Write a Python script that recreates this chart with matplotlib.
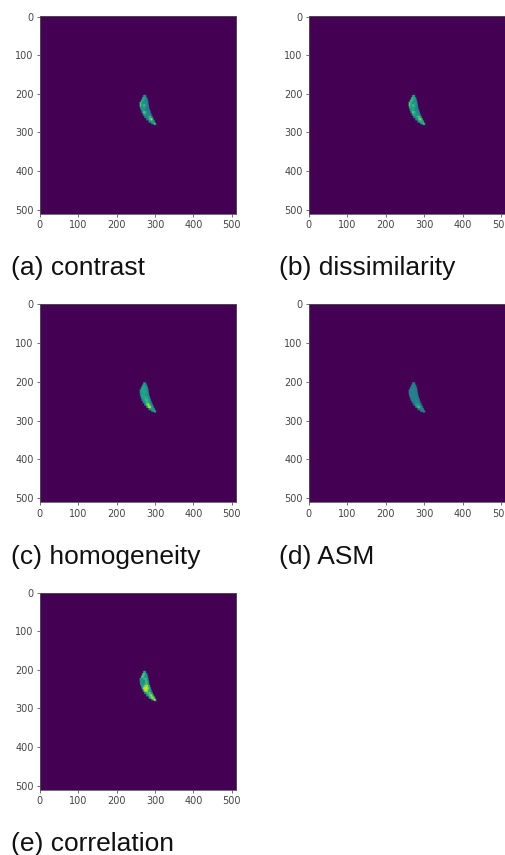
import numpy as np
import matplotlib
matplotlib.use("Agg")
import matplotlib.pyplot as plt

W, H = 506, 855
IMG = 512
captions = ["(a) contrast", "(b) dissimilarity", "(c) homogeneity", "(d) ASM", "(e) correlation"]
ticks = [0, 100, 200, 300, 400, 500]

# blob outline (image coordinates)
row_y = [204, 210, 216, 222, 228, 234, 240, 246, 252, 258, 264, 270, 276, 280]
row_left = [268, 265, 262, 259, 259, 260, 262, 264, 267, 271, 276, 282, 289, 296]
row_right = [276, 279, 281, 282, 283, 284, 286, 288, 290, 293, 296, 299, 302, 302]

# colour level across each row (five cells, left to right), estimated per panel
contrast = [
    [.50, .55, .55, .50, .45], [.50, .60, .55, .50, .45], [.55, .60, .50, .45, .40],
    [.70, .55, .45, .50, .42], [.75, .50, .70, .50, .40], [.55, .50, .55, .45, .38],
    [.45, .55, .45, .40, .40], [.40, .75, .60, .42, .40], [.40, .60, .45, .45, .45],
    [.40, .42, .55, .70, .45], [.40, .45, .70, .85, .50], [.40, .45, .55, .55, .50],
    [.42, .50, .55, .70, .60], [.50, .55, .60, .55, .50],
]
dissimilarity = [
    [.55, .60, .60, .55, .50], [.60, .68, .62, .55, .50], [.65, .68, .55, .50, .48],
    [.72, .60, .50, .55, .48], [.76, .55, .72, .55, .45], [.62, .55, .60, .50, .45],
    [.50, .60, .52, .45, .45], [.45, .75, .62, .48, .45], [.45, .62, .50, .50, .48],
    [.45, .48, .62, .75, .50], [.45, .50, .72, .82, .55], [.45, .50, .60, .62, .55],
    [.48, .55, .60, .72, .62], [.55, .60, .62, .60, .55],
]
homogeneity = [
    [.50, .52, .52, .50, .48], [.52, .58, .55, .50, .48], [.55, .60, .58, .52, .48],
    [.52, .58, .60, .55, .50], [.50, .55, .60, .55, .48], [.52, .58, .58, .52, .48],
    [.52, .58, .62, .58, .50], [.50, .55, .68, .60, .50], [.48, .55, .68, .60, .50],
    [.48, .72, .85, .58, .48], [.48, .85, .92, .55, .48], [.48, .52, .58, .55, .48],
    [.48, .52, .60, .60, .52], [.50, .55, .60, .55, .50],
]
asm = [
    [.42, .42, .42, .42, .40], [.42, .44, .44, .42, .40], [.42, .44, .44, .42, .40],
    [.42, .42, .44, .42, .40], [.40, .42, .44, .42, .40], [.42, .44, .44, .42, .40],
    [.42, .42, .44, .44, .40], [.40, .42, .46, .44, .40], [.40, .42, .46, .44, .40],
    [.40, .50, .55, .44, .40], [.40, .62, .72, .45, .40], [.40, .42, .44, .44, .40],
    [.40, .42, .44, .45, .42], [.42, .44, .45, .44, .42],
]
correlation = [
    [.55, .60, .62, .58, .50], [.60, .72, .68, .55, .50], [.62, .75, .55, .52, .50],
    [.55, .50, .62, .70, .52], [.45, .55, .42, .68, .55], [.58, .48, .55, .72, .55],
    [.50, .62, .82, .88, .60], [.55, .92, .95, .85, .58], [.55, .90, .88, .62, .55],
    [.50, .62, .70, .72, .55], [.50, .60, .80, .85, .58], [.50, .62, .82, .88, .68],
    [.55, .65, .80, .90, .72], [.60, .80, .92, .85, .70],
]
levels = [contrast, dissimilarity, homogeneity, asm, correlation]

# axes boxes in reference pixels: left, top, right, bottom
boxes = [(39.7, 16.5, 236.3, 214.0), (308.7, 16.5, 505.7, 214.0),
         (39.7, 304.3, 236.3, 502.3), (308.7, 304.3, 505.7, 502.3),
         (39.7, 592.7, 236.3, 790.0)]
caption_xy = [(11, 275), (279, 275), (11, 564), (279, 564), (11, 851)]


def build_image(rows):
    img = np.zeros((IMG, IMG))
    for i, cells in enumerate(rows):
        y0 = row_y[i]
        y1 = row_y[i + 1] if i + 1 < len(row_y) else y0 + 2
        edges = np.linspace(row_left[i], row_right[i], len(cells) + 1).astype(int)
        for j, v in enumerate(cells):
            img[y0:y1, edges[j]:edges[j + 1]] = v
    return img


fig = plt.figure(figsize=(W / 100, H / 100), dpi=100)
for rows, cap, (l, t, r, b), (cx, cy) in zip(levels, captions, boxes, caption_xy):
    ax = fig.add_axes([l / W, 1 - b / H, (r - l) / W, (b - t) / H])
    ax.imshow(build_image(rows), cmap="viridis", vmin=0, vmax=1,
              interpolation="hanning", aspect="auto")
    ax.set_xticks(ticks)
    ax.set_yticks(ticks)
    ax.tick_params(labelsize=7, length=2.5, width=0.6, pad=2,
                   color="#555555", labelcolor="#444444")
    for s in ax.spines.values():
        s.set_linewidth(0.6)
        s.set_color("#555555")
    fig.text(cx / W, 1 - cy / H, cap, family="Liberation Sans", fontsize=19,
             color="#111111", ha="left", va="baseline")

fig.savefig("out.png", dpi=100)
